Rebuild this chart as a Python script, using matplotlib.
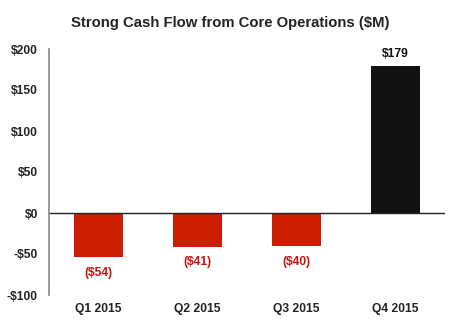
import matplotlib.pyplot as plt

quarters = ['Q1 2015', 'Q2 2015', 'Q3 2015', 'Q4 2015']
cash_flow = [-54, -41, -40, 179]
value_labels = ['($54)', '($41)', '($40)', '$179']
y_ticks = [-100, -50, 0, 50, 100, 150, 200]
y_tick_labels = ['-$100', '-$50', '$0', '$50', '$100', '$150', '$200']

plt.rcParams['font.family'] = ['Liberation Sans', 'DejaVu Sans']

fig = plt.figure(figsize=(4.6, 3.21), dpi=100)
ax = fig.add_axes([49 / 460, 1 - 295 / 321, 396 / 460, 246 / 321])

red = '#CC1E00'
colours = [red if v < 0 else '#111111' for v in cash_flow]
bars = ax.bar(range(len(quarters)), cash_flow, width=0.49, color=colours)

ax.set_xlim(-0.5, 3.5)
ax.set_ylim(-100, 200)
ax.set_yticks(y_ticks)
ax.set_yticklabels(y_tick_labels, fontsize=8.7, fontweight='bold', color='#222222')
ax.set_xticks(range(len(quarters)))
ax.set_xticklabels(quarters, fontsize=8.7, fontweight='bold', color='#222222')
ax.tick_params(length=0)
ax.tick_params(axis='y', pad=8)
ax.tick_params(axis='x', pad=6)

for spine in ['top', 'right', 'bottom']:
    ax.spines[spine].set_visible(False)
ax.spines['left'].set_color('#888888')
ax.spines['left'].set_linewidth(1.2)
ax.axhline(0, color='#222222', linewidth=1)

# value labels
for bar, v, lab in zip(bars, cash_flow, value_labels):
    x = bar.get_x() + bar.get_width() / 2
    if v < 0:
        ax.text(x, v - 12, lab, ha='center', va='top', fontsize=8.7,
                fontweight='bold', color='#CC1111')
    else:
        ax.text(x, v + 7, lab, ha='center', va='bottom', fontsize=8.7,
                fontweight='bold', color='#111111')

fig.text(0.5, 1 - 23 / 321, 'Strong Cash Flow from Core Operations ($M)',
         ha='center', va='center', fontsize=10.7, fontweight='bold', color='#222222')

fig.savefig('out.png', dpi=100)
